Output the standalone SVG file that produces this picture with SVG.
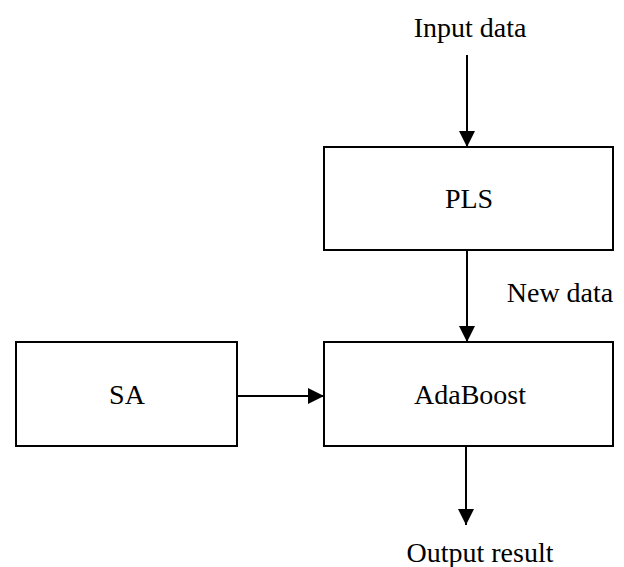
<svg xmlns="http://www.w3.org/2000/svg" width="624" height="567" viewBox="0 0 624 567">
<style>
.box{fill:#fff;stroke:#000;stroke-width:2}
.t{font-family:"Liberation Serif","Times New Roman",serif;font-size:28px;fill:#000}
.c{stroke:#000;stroke-width:2;fill:none}
</style>
<defs>
<marker id="ah" markerUnits="userSpaceOnUse" markerWidth="16" markerHeight="16" refX="16" refY="8" orient="auto">
<path d="M0,0 L16,8 L0,16 Z" fill="#000"/>
</marker>
</defs>
<rect width="624" height="567" fill="#fff"/>
<text class="t" x="470" y="37" text-anchor="middle">Input data</text>
<g id="pls">
<rect class="box" x="324" y="147" width="289" height="103"/>
<text class="t" x="469" y="208" text-anchor="middle">PLS</text>
</g>
<g id="adaboost">
<rect class="box" x="324" y="342" width="289" height="104"/>
<text class="t" x="470" y="404" text-anchor="middle">AdaBoost</text>
</g>
<g id="sa">
<rect class="box" x="16" y="342" width="221" height="104"/>
<text class="t" x="127" y="404" text-anchor="middle">SA</text>
</g>
<text class="t" x="560" y="302" text-anchor="middle">New data</text>
<text class="t" x="480" y="562" text-anchor="middle">Output result</text>
<g id="connectors">
<line class="c" x1="467" y1="55" x2="467" y2="147" marker-end="url(#ah)"/>
<line class="c" x1="467" y1="250" x2="467" y2="342" marker-end="url(#ah)"/>
<line class="c" x1="237" y1="396" x2="324" y2="396" marker-end="url(#ah)"/>
<line class="c" x1="466" y1="446" x2="466" y2="525" marker-end="url(#ah)"/>
</g>
</svg>
